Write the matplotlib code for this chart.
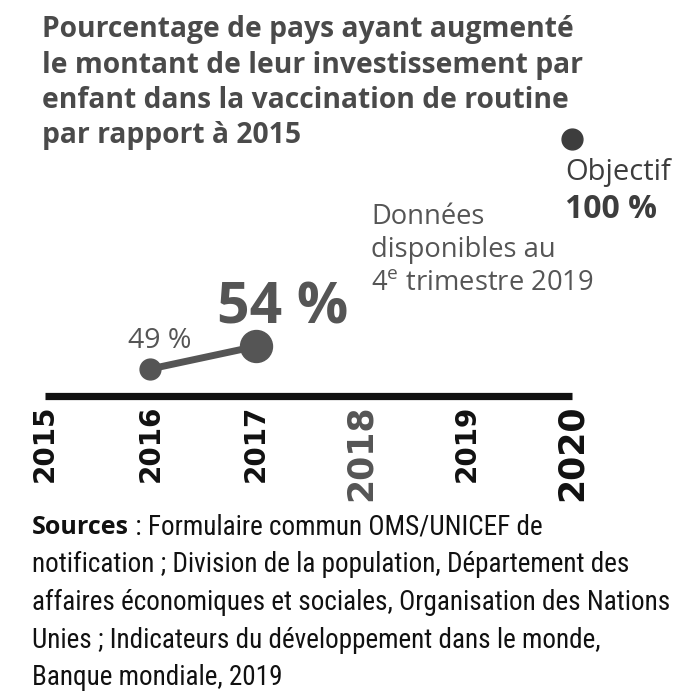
import matplotlib
matplotlib.use("Agg")
import matplotlib.pyplot as plt

# data
years = [2016, 2017]
values = [49, 54]
value_labels = ["49 %", "54 %"]
goal_year = 2020
goal_value = 100
tick_years = [2015, 2016, 2017, 2018, 2019, 2020]
tick_labels = ["2015", "2016", "2017", "2018", "2019", "2020"]

title_lines = [
    "Pourcentage de pays ayant augmenté",
    "le montant de leur investissement par",
    "enfant dans la vaccination de routine",
    "par rapport à 2015",
]
source_lines = [
    " : Formulaire commun OMS/UNICEF de",
    "notification ; Division de la population, Département des",
    "affaires économiques et sociales, Organisation des Nations",
    "Unies ; Indicateurs du développement dans le monde,",
    "Banque mondiale, 2019",
]

GREY = "#555555"
DARK = "#3d3d3d"
BLACK = "#111111"

plt.rcParams["mathtext.fontset"] = "custom"
plt.rcParams["mathtext.rm"] = "Open Sans"

W, H = 700, 700
fig = plt.figure(figsize=(7, 7), dpi=100)


def fx(x):
    return x / W


def fy(y):
    return 1 - y / H


# axes box: x 2015..2020 -> 45..572 px, y 43..100 -> 396..139 px
ax = fig.add_axes([fx(45), fy(396), fx(572) - fx(45), fy(139) - fy(396)])
ax.set_xlim(2015, 2020)
ax.set_ylim(43, 100)
ax.axis("off")

# baseline
ax.plot([2015, 2020], [43, 43], color=BLACK, lw=5.2, solid_capstyle="butt", clip_on=False)

# series
ax.plot(years, values, color=GREY, lw=5, clip_on=False, zorder=3)
ax.plot(years[0], values[0], "o", color=GREY, ms=15, clip_on=False, zorder=4)
ax.plot(years[1], values[1], "o", color=GREY, ms=23, clip_on=False, zorder=4)
ax.plot(goal_year, goal_value, "o", color=DARK, ms=15, clip_on=False, zorder=4)

ax.annotate(value_labels[0], (years[0], values[0]), xytext=(-16, 20), textcoords="offset points",
            ha="left", va="center", fontsize=20.5, color=GREY, family="Open Sans")
ax.annotate(value_labels[1], (years[1], values[1]), xytext=(-28, 27), textcoords="offset points",
            ha="left", va="center", fontsize=41, color=GREY, family="Open Sans", weight="bold")

ax.annotate("Objectif", (goal_year, goal_value), xytext=(-5, -24), textcoords="offset points",
            ha="left", va="center", fontsize=21, color=DARK, family="Open Sans")
ax.annotate("100 %", (goal_year, goal_value), xytext=(-5, -51), textcoords="offset points",
            ha="left", va="center", fontsize=23, color=DARK, family="Open Sans", weight="bold")

for i, line in enumerate(["Données", "disponibles au", "4$^{\\rm e}$ trimestre 2019"]):
    fig.text(fx(371), fy(217 + 33 * i), line, ha="left", va="center",
             fontsize=19.7, color=GREY, family="Open Sans")

# year labels under the axis
for yr, lab in zip(tick_years, tick_labels):
    big = yr in (2018, 2020)
    ax.text(yr, 43 - 8.5 / 4.5, lab, rotation=90, ha="center", va="top",
            fontsize=25 if big else 20, weight="bold",
            color=GREY if yr == 2018 else BLACK, family="DejaVu Sans")

# title
for i, line in enumerate(title_lines):
    fig.text(fx(42), fy(30 + 35 * i), line, ha="left", va="center",
             fontsize=20.3, weight="bold", color="#4a4a4a", family="Open Sans")

# sources
src_font = ["Roboto Condensed", "Open Sans Condensed", "DejaVu Sans"]
t0 = fig.text(fx(32), fy(527), "Sources", ha="left", va="center", fontsize=18,
              weight="bold", color=BLACK, family="Open Sans")
fig.canvas.draw()
bb = t0.get_window_extent()
fig.text(bb.x1 / W, fy(527), source_lines[0], ha="left", va="center",
         fontsize=19.5, color=BLACK, family=src_font)
for i, line in enumerate(source_lines[1:], start=1):
    fig.text(fx(32), fy(527 + 37.7 * i), line, ha="left", va="center",
             fontsize=19.5, color=BLACK, family=src_font)

fig.savefig("out.png", dpi=100)
